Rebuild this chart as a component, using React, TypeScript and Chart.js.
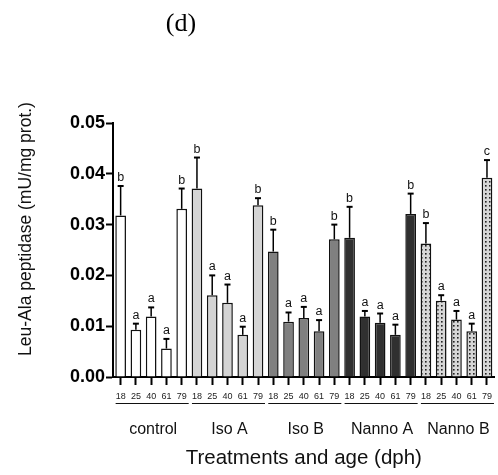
import React, { useEffect, useRef } from 'react';
import { Chart, registerables } from 'chart.js';
Chart.register(...registerables);

const ages = ['18', '25', '40', '61', '79'];
const groups = ['control', 'Iso A', 'Iso B', 'Nanno A', 'Nanno B'];

const controlMean = [0.0318, 0.0093, 0.0119, 0.0056, 0.0331];
const controlSem = [0.0058, 0.0012, 0.0018, 0.0019, 0.004];
const isoAMean = [0.0371, 0.0161, 0.0146, 0.0083, 0.0338];
const isoASem = [0.0061, 0.0039, 0.0036, 0.0016, 0.0014];
const isoBMean = [0.0247, 0.0109, 0.0116, 0.009, 0.0271];
const isoBSem = [0.0043, 0.0018, 0.0022, 0.0022, 0.0029];
const nannoAMean = [0.0274, 0.0119, 0.0107, 0.0083, 0.0321];
const nannoASem = [0.0061, 0.0011, 0.0018, 0.002, 0.004];
const nannoBMean = [0.0263, 0.015, 0.0113, 0.009, 0.0392];
const nannoBSem = [0.004, 0.0011, 0.0017, 0.0015, 0.0035];

const controlLetters = ['b', 'a', 'a', 'a', 'b'];
const isoALetters = ['b', 'a', 'a', 'a', 'b'];
const isoBLetters = ['b', 'a', 'a', 'a', 'b'];
const nannoALetters = ['b', 'a', 'a', 'a', 'b'];
const nannoBLetters = ['b', 'a', 'a', 'a', 'c'];

const yTicks = [0, 0.01, 0.02, 0.03, 0.04, 0.05];

const SANS = '"Liberation Sans", Arial, sans-serif';

export default function App() {
  const ref = useRef<HTMLCanvasElement | null>(null);

  useEffect(() => {
    const canvas = ref.current;
    if (!canvas) return;

    const pc = document.createElement('canvas');
    pc.width = 4;
    pc.height = 4;
    const pctx = pc.getContext('2d')!;
    pctx.fillStyle = '#d6d6d6';
    pctx.fillRect(0, 0, 4, 4);
    pctx.fillStyle = '#222';
    pctx.fillRect(1, 1, 1.6, 1.6);
    const dotPattern = canvas.getContext('2d')!.createPattern(pc, 'repeat');

    const labels: string[] = [];
    groups.forEach(() => ages.forEach((a) => labels.push(a)));
    const means = [...controlMean, ...isoAMean, ...isoBMean, ...nannoAMean, ...nannoBMean];
    const sems = [...controlSem, ...isoASem, ...isoBSem, ...nannoASem, ...nannoBSem];
    const letters = [...controlLetters, ...isoALetters, ...isoBLetters, ...nannoALetters, ...nannoBLetters];
    const groupFills: any[] = ['#ffffff', '#d4d4d4', '#808080', '#303030', dotPattern];
    const fills: any[] = [];
    groups.forEach((_, g) => ages.forEach(() => fills.push(groupFills[g])));

    const overlay = {
      id: 'overlay',
      afterDatasetsDraw(chart: any) {
        const ctx = chart.ctx;
        const xs = chart.scales.x;
        const ys = chart.scales.y;
        ctx.save();
        ctx.strokeStyle = '#000';
        ctx.fillStyle = '#111';
        means.forEach((m, i) => {
          const x = xs.getPixelForValue(i);
          const yTop = ys.getPixelForValue(m);
          const yErr = ys.getPixelForValue(m + sems[i]);
          ctx.lineWidth = 1.5;
          ctx.beginPath();
          ctx.moveTo(x, yTop);
          ctx.lineTo(x, yErr);
          ctx.stroke();
          ctx.lineWidth = 2;
          ctx.beginPath();
          ctx.moveTo(x - 3, yErr);
          ctx.lineTo(x + 3, yErr);
          ctx.stroke();
          ctx.font = `12.5px ${SANS}`;
          ctx.textAlign = 'center';
          ctx.textBaseline = 'alphabetic';
          ctx.fillText(letters[i], x, yErr - 5);
        });
        ctx.restore();
      },
      afterDraw(chart: any) {
        const ctx = chart.ctx;
        const xs = chart.scales.x;
        const area = chart.chartArea;
        ctx.save();
        ctx.fillStyle = '#111';
        ctx.strokeStyle = '#111';
        ctx.lineWidth = 1;
        groups.forEach((g, gi) => {
          const x0 = xs.getPixelForValue(gi * 5);
          const x1 = xs.getPixelForValue(gi * 5 + 4);
          ctx.beginPath();
          ctx.moveTo(x0 - 5, 403.5);
          ctx.lineTo(x1 + 7, 403.5);
          ctx.stroke();
          const xm = xs.getPixelForValue(gi * 5 + 2);
          ctx.font = `16px ${SANS}`;
          ctx.textAlign = 'center';
          ctx.textBaseline = 'middle';
          ctx.fillText(g, xm + 2, 430);
        });
        ctx.font = `20.5px ${SANS}`;
        ctx.textAlign = 'center';
        ctx.textBaseline = 'middle';
        ctx.fillText('Treatments and age (dph)', (area.left + area.right) / 2, 458);
        ctx.save();
        ctx.translate(26, 229);
        ctx.rotate(-Math.PI / 2);
        ctx.font = `17.5px ${SANS}`;
        ctx.fillText('Leu-Ala peptidase (mU/mg prot.)', 0, 0);
        ctx.restore();
        ctx.font = `26px "Liberation Serif", "Times New Roman", serif`;
        ctx.fillStyle = '#000';
        ctx.fillText('(d)', 181, 24);
        ctx.restore();
      },
    };

    const chart = new Chart(canvas, {
      type: 'bar',
      data: {
        labels,
        datasets: [
          {
            data: means,
            backgroundColor: fills,
            borderColor: '#111',
            borderWidth: 1.5,
            barPercentage: 0.7,
            categoryPercentage: 1.0,
          },
        ],
      },
      options: {
        responsive: false,
        animation: false,
        layout: { padding: { top: 123, right: 1, left: 0, bottom: 0 } },
        plugins: { legend: { display: false }, tooltip: { enabled: false }, title: { display: false } },
        scales: {
          x: {
            offset: true,
            afterFit: (s: any) => {
              s.height = 98;
            },
            border: { display: true, color: '#000', width: 2 },
            grid: {
              offset: false,
              drawOnChartArea: false,
              drawTicks: true,
              tickLength: 8,
              tickWidth: 2,
              tickColor: '#000',
            },
            ticks: {
              autoSkip: false,
              maxRotation: 0,
              minRotation: 0,
              padding: 6,
              color: '#222',
              font: { family: SANS, size: 9 },
            },
          },
          y: {
            min: 0,
            max: 0.05,
            afterFit: (s: any) => {
              s.width = 113;
            },
            afterBuildTicks: (s: any) => {
              s.ticks = yTicks.map((v) => ({ value: v }));
            },
            border: { display: true, color: '#000', width: 2 },
            grid: {
              drawOnChartArea: false,
              drawTicks: true,
              tickLength: 7,
              tickWidth: 2,
              tickColor: '#000',
            },
            ticks: {
              padding: 1,
              color: '#000',
              font: { family: SANS, size: 18, weight: 'bold' },
              callback: (v: any) => Number(v).toFixed(2),
            },
          },
        },
      },
      plugins: [overlay],
    });
    return () => chart.destroy();
  }, []);

  return (
    <div style={{ position: 'absolute', left: 0, top: 0, width: 498, height: 475, background: '#fff' }}>
      <canvas ref={ref} width={498} height={475} style={{ width: 498, height: 475, display: 'block' }} />
    </div>
  );
}
